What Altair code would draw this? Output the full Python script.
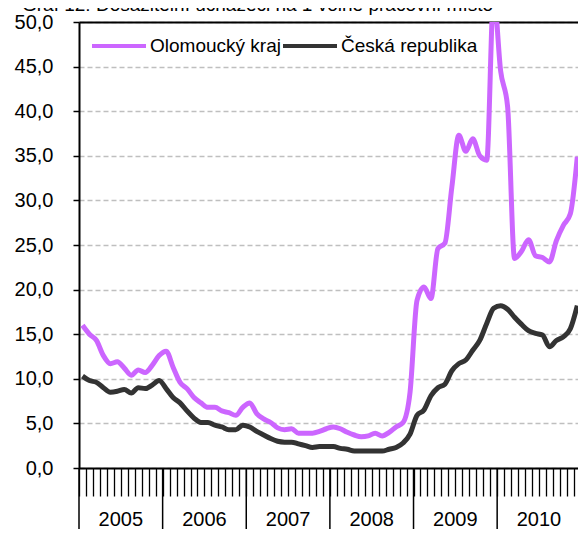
import altair as alt
import pandas as pd

# ---- data ----
years = [2005, 2006, 2007, 2008, 2009, 2010]
months = [f"{y}-{m:02d}" for y in years for m in range(1, 13)]

olomoucky = [
    16.0, 15.0, 14.3, 12.6, 11.7, 11.9, 11.2, 10.4, 11.0, 10.7, 11.5, 12.6,
    13.1, 11.3, 9.6, 8.9, 7.9, 7.3, 6.8, 6.8, 6.4, 6.2, 5.9, 6.8,
    7.3, 6.1, 5.5, 5.1, 4.5, 4.3, 4.4, 3.9, 3.9, 3.9, 4.1, 4.4,
    4.6, 4.4, 4.0, 3.7, 3.5, 3.6, 3.9, 3.6, 4.0, 4.6, 5.1, 8.5,
    18.8, 20.3, 19.0, 24.6, 25.2, 31.5, 37.3, 35.5, 36.9, 35.0, 34.5, 53.0,
    44.5, 40.5, 23.5, 24.3, 25.6, 23.8, 23.6, 23.1, 25.5, 27.2, 28.5, 34.9,
]
cesko = [
    10.3, 9.8, 9.6, 9.0, 8.5, 8.6, 8.8, 8.4, 9.0, 8.9, 9.3, 9.8,
    8.9, 7.9, 7.3, 6.4, 5.6, 5.1, 5.1, 4.8, 4.6, 4.3, 4.3, 4.8,
    4.6, 4.1, 3.7, 3.3, 3.0, 2.9, 2.9, 2.7, 2.5, 2.3, 2.4, 2.4,
    2.4, 2.2, 2.1, 1.9, 1.9, 1.9, 1.9, 1.9, 2.1, 2.3, 2.8, 3.8,
    5.9, 6.5, 8.1, 9.0, 9.4, 10.9, 11.7, 12.1, 13.2, 14.3, 16.2, 17.9,
    18.2, 17.8, 16.9, 16.1, 15.4, 15.1, 14.9, 13.6, 14.3, 14.7, 15.6, 18.2,
]
series_names = ["Olomoucký kraj", "Česká republika"]
series_colors = ["#CC66FF", "#333333"]
y_ticks = [0, 5, 10, 15, 20, 25, 30, 35, 40, 45, 50]
title_text = "Graf 12: Dosažitelní uchazeči na 1 volné pracovní místo"

FONT = "Liberation Sans"
n_months = len(months)

# ---- tables ----
rows = []
for name, vals in zip(series_names, [olomoucky, cesko]):
    for i, (m, v) in enumerate(zip(months, vals)):
        rows.append({"series": name, "month": m, "pos": i + 0.5, "value": v})
df = pd.DataFrame(rows)

df_years = pd.DataFrame({
    "year": [str(y) for y in years],
    "start": [12 * k for k in range(len(years))],
    "center": [12 * k + 6 for k in range(len(years))],
})
df_title = pd.DataFrame({"t": [title_text]})

W, H = 499, 446
BOTTOM = 61

x_scale = alt.Scale(domain=[0, 71.6], nice=False, zero=False)
y_scale = alt.Scale(domain=[0, 50], nice=False)

x_axis = alt.Axis(
    values=list(range(n_months)),
    tickSize=28, tickColor="black", tickWidth=1.3,
    domainColor="black", domainWidth=2,
    labels=False, grid=False, title=None,
)
y_axis = alt.Axis(
    values=y_ticks,
    tickSize=6, tickColor="black", tickWidth=1.5,
    domainColor="black", domainWidth=2,
    grid=True, gridColor="#BFBFBF", gridDash=[5, 3], gridWidth=1.5,
    labelExpr="replace(format(datum.value, '.1f'), '.', ',')",
    labelFontSize=20, labelFont=FONT, labelColor="black", labelPadding=20,
    title=None,
)

lines = alt.Chart(df).mark_line(strokeWidth=5, interpolate="monotone", clip=True).encode(
    x=alt.X("pos:Q", scale=x_scale, axis=x_axis),
    y=alt.Y("value:Q", scale=y_scale, axis=y_axis),
    color=alt.Color(
        "series:N",
        scale=alt.Scale(domain=series_names, range=series_colors),
        sort=series_names,
        legend=alt.Legend(
            title=None, orient="none", legendX=11, legendY=-5, direction="horizontal",
            symbolType="stroke", symbolSize=2916, symbolStrokeWidth=4,
            labelFontSize=19, labelFont=FONT, labelColor="black",
            labelOffset=2, columnPadding=-7, padding=0,
        ),
    ),
)

top_axis = alt.Axis(orient="top", ticks=False, labels=False, grid=False,
                    domainColor="black", domainWidth=2, title=None)

separators = alt.Chart(df_years).mark_rule(color="black", strokeWidth=1.5).encode(
    x=alt.X("start:Q", scale=x_scale, axis=top_axis),
    y=alt.value(H),
    y2=alt.value(H + BOTTOM),
)

year_labels = alt.Chart(df_years).mark_text(
    fontSize=20, font=FONT, color="black", baseline="middle", align="center"
).encode(
    x=alt.X("center:Q", scale=x_scale, axis=None),
    y=alt.value(H + 52),
    text="year:N",
)

title = alt.Chart(df_title).mark_text(
    fontSize=19, font=FONT, color="black", baseline="alphabetic", align="left"
).encode(
    x=alt.value(-57),
    y=alt.value(-11),
    text="t:N",
)

chart = alt.layer(lines, separators, year_labels, title).resolve_axis(
    x="independent"
).properties(
    width=W, height=H,
    autosize=alt.AutoSizeParams(type="none"),
    padding={"left": 71, "top": 14, "right": 0, "bottom": BOTTOM},
).configure_view(stroke=None).configure(font=FONT, background="white")

chart.save("out.html", embed_options={"renderer": "svg", "actions": False})
